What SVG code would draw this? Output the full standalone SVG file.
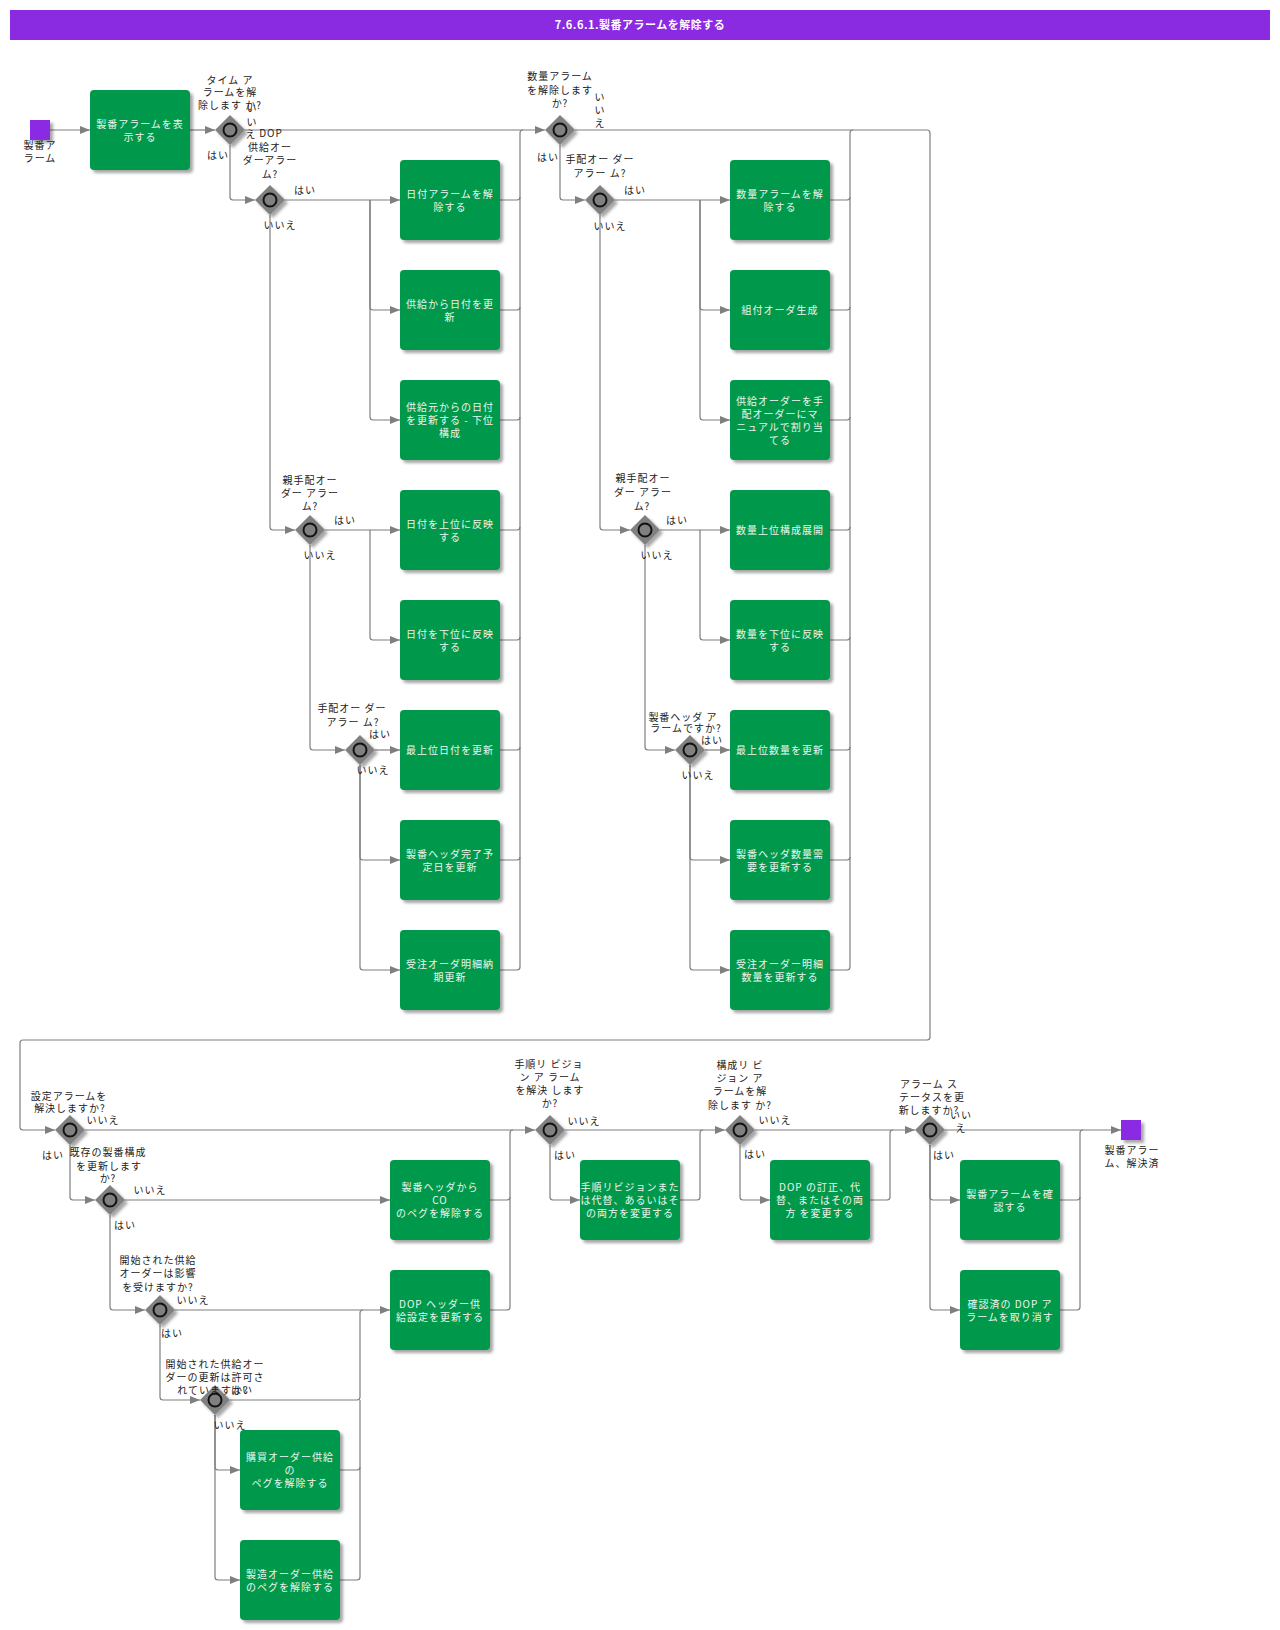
<svg xmlns="http://www.w3.org/2000/svg" width="1280" height="1630" viewBox="0 0 1280 1630">
<style>
text{font-family:"Noto Sans CJK JP","Noto Sans",sans-serif;font-size:10px;letter-spacing:1px;text-anchor:middle}
.title{fill:#fff;font-size:11px;font-weight:bold;letter-spacing:0.5px}
.tl{fill:#eef5ee}
.lb{fill:#222}
.task{fill:#00994c;filter:url(#sh)}
.gw{fill:#808080;filter:url(#sh)}
.gc{fill:#808080;stroke:#111;stroke-width:2}
.ev{fill:#8a2be2;filter:url(#sh)}
.cn path{fill:none;stroke:#7f7f7f;stroke-width:1.2}
.cn path.a{marker-end:url(#ar)}
</style>
<defs>
<marker id="ar" markerUnits="userSpaceOnUse" markerWidth="11" markerHeight="9" refX="10" refY="4" orient="auto"><path d="M0,0 L10,4 L0,8 Z" fill="#7f7f7f"/></marker>
<filter id="sh" x="-20%" y="-20%" width="150%" height="150%"><feDropShadow dx="3" dy="3" stdDeviation="1.8" flood-color="#000" flood-opacity="0.35"/></filter>
</defs>
<rect x="0" y="0" width="1280" height="1630" fill="#fff"/>
<g id="title"><rect x="10" y="10" width="1260" height="30" fill="#8a2be2"/><text class="title" x="640" y="29">7.6.6.1.製番アラームを解除する</text></g>

<g id="connectors" class="cn">
<path class="a" d="M50,130 H90"/>
<path class="a" d="M190,130 H215"/>
<path class="a" d="M245,130 H545"/>
<path class="a" d="M230,145 V197 Q230,200 233,200 H255"/>
<path class="a" d="M285,200 H400"/>
<path class="a" d="M370,200 V307 Q370,310 373,310 H400"/>
<path class="a" d="M370,200 V417 Q370,420 373,420 H400"/>
<path class="a" d="M270,215 V527 Q270,530 273,530 H295"/>
<path class="a" d="M325,530 H400"/>
<path class="a" d="M370,530 V637 Q370,640 373,640 H400"/>
<path class="a" d="M310,545 V747 Q310,750 313,750 H345"/>
<path class="a" d="M375,750 H400"/>
<path class="a" d="M360,765 V857 Q360,860 363,860 H400"/>
<path class="a" d="M360,765 V967 Q360,970 363,970 H400"/>
<path d="M500,200 H517 Q520,200 520,197"/>
<path d="M500,310 H517 Q520,310 520,307"/>
<path d="M500,420 H517 Q520,420 520,417"/>
<path d="M500,530 H517 Q520,530 520,527"/>
<path d="M500,640 H517 Q520,640 520,637"/>
<path d="M500,750 H517 Q520,750 520,747"/>
<path d="M500,860 H517 Q520,860 520,857"/>
<path d="M500,970 H517 Q520,970 520,967 V133 Q520,130 523,130"/>
<path class="a" d="M560,145 V197 Q560,200 563,200 H585"/>
<path class="a" d="M615,200 H730"/>
<path class="a" d="M700,200 V307 Q700,310 703,310 H730"/>
<path class="a" d="M700,200 V417 Q700,420 703,420 H730"/>
<path class="a" d="M600,215 V527 Q600,530 603,530 H630"/>
<path class="a" d="M660,530 H730"/>
<path class="a" d="M700,530 V637 Q700,640 703,640 H730"/>
<path class="a" d="M645,545 V747 Q645,750 648,750 H675"/>
<path class="a" d="M705,750 H730"/>
<path class="a" d="M690,765 V857 Q690,860 693,860 H730"/>
<path class="a" d="M690,765 V967 Q690,970 693,970 H730"/>
<path d="M830,200 H847 Q850,200 850,197"/>
<path d="M830,310 H847 Q850,310 850,307"/>
<path d="M830,420 H847 Q850,420 850,417"/>
<path d="M830,530 H847 Q850,530 850,527"/>
<path d="M830,640 H847 Q850,640 850,637"/>
<path d="M830,750 H847 Q850,750 850,747"/>
<path d="M830,860 H847 Q850,860 850,857"/>
<path d="M830,970 H847 Q850,970 850,967 V133 Q850,130 853,130"/>
<path class="a" d="M575,130 H927 Q930,130 930,133 V1037 Q930,1040 927,1040 H23 Q20,1040 20,1043 V1127 Q20,1130 23,1130 H55"/>
<path class="a" d="M85,1130 H535"/>
<path class="a" d="M70,1145 V1197 Q70,1200 73,1200 H95"/>
<path class="a" d="M125,1200 H390"/>
<path class="a" d="M110,1215 V1307 Q110,1310 113,1310 H145"/>
<path class="a" d="M175,1310 H390"/>
<path class="a" d="M160,1325 V1397 Q160,1400 163,1400 H200"/>
<path d="M230,1400 H357 Q360,1400 360,1397 V1313 Q360,1310 363,1310"/>
<path class="a" d="M215,1415 V1467 Q215,1470 218,1470 H240"/>
<path class="a" d="M215,1415 V1577 Q215,1580 218,1580 H240"/>
<path d="M340,1470 H357 Q360,1470 360,1467"/>
<path d="M340,1580 H357 Q360,1580 360,1577 V1400"/>
<path d="M490,1200 H507 Q510,1200 510,1197"/>
<path d="M490,1310 H507 Q510,1310 510,1307 V1133 Q510,1130 513,1130"/>
<path class="a" d="M550,1145 V1197 Q550,1200 553,1200 H580"/>
<path class="a" d="M565,1130 H725"/>
<path d="M680,1200 H697 Q700,1200 700,1197 V1133 Q700,1130 703,1130"/>
<path class="a" d="M740,1145 V1197 Q740,1200 743,1200 H770"/>
<path class="a" d="M755,1130 H915"/>
<path d="M870,1200 H887 Q890,1200 890,1197 V1133 Q890,1130 893,1130"/>
<path class="a" d="M930,1145 V1197 Q930,1200 933,1200 H960"/>
<path class="a" d="M930,1145 V1307 Q930,1310 933,1310 H960"/>
<path class="a" d="M945,1130 H1121"/>
<path d="M1060,1200 H1077 Q1080,1200 1080,1197"/>
<path d="M1060,1310 H1077 Q1080,1310 1080,1307 V1133 Q1080,1130 1083,1130"/>
</g>

<g id="connector-labels" class="lb">
<text class="lb" x="218" y="159">はい</text>
<text class="lb" x="252" y="112">い</text><text class="lb" x="252" y="126">い</text><text class="lb" x="251" y="138">え</text>
<text class="lb" x="305" y="194">はい</text>
<text class="lb" x="280" y="229">いいえ</text>
<text class="lb" x="345" y="524">はい</text>
<text class="lb" x="320" y="559">いいえ</text>
<text class="lb" x="380" y="738">はい</text>
<text class="lb" x="373" y="774">いいえ</text>
<text class="lb" x="548" y="161">はい</text>
<text class="lb" x="600" y="101">い</text><text class="lb" x="600" y="114">い</text><text class="lb" x="600" y="127">え</text>
<text class="lb" x="635" y="194">はい</text>
<text class="lb" x="610" y="230">いいえ</text>
<text class="lb" x="677" y="524">はい</text>
<text class="lb" x="657" y="559">いいえ</text>
<text class="lb" x="712" y="744">はい</text>
<text class="lb" x="698" y="779">いいえ</text>
<text class="lb" x="103" y="1124">いいえ</text>
<text class="lb" x="53" y="1159">はい</text>
<text class="lb" x="150" y="1194">いいえ</text>
<text class="lb" x="125" y="1229">はい</text>
<text class="lb" x="193" y="1304">いいえ</text>
<text class="lb" x="172" y="1337">はい</text>
<text class="lb" x="242" y="1394">はい</text>
<text class="lb" x="230" y="1429">いいえ</text>
<text class="lb" x="584" y="1125">いいえ</text>
<text class="lb" x="565" y="1159">はい</text>
<text class="lb" x="775" y="1124">いいえ</text>
<text class="lb" x="755" y="1158">はい</text>
<text class="lb" x="961" y="1119">いい</text><text class="lb" x="961" y="1132">え</text>
<text class="lb" x="944" y="1159">はい</text>
</g>

<g id="start"><rect class="ev" x="30" y="120" width="20" height="20"/><text class="lb" x="40" y="149">製番ア</text><text class="lb" x="40" y="162">ラーム</text></g>
<g id="end"><rect class="ev" x="1121" y="1120" width="20" height="20"/><text class="lb" x="1132" y="1154">製番アラー</text><text class="lb" x="1132" y="1167">ム、解決済</text></g>

<g id="t-show"><rect class="task" x="90" y="90" width="100" height="80" rx="4"/><text class="tl" x="140" y="128">製番アラームを表</text><text class="tl" x="140" y="141">示する</text></g>

<g id="g1"><polygon class="gw" points="230,115 245,130 230,145 215,130"/><circle class="gc" cx="230" cy="130" r="6.5"/><text class="lb" x="230" y="84">タイム ア</text><text class="lb" x="230" y="96">ラームを解</text><text class="lb" x="230" y="109">除します か?</text></g>
<g id="g2"><polygon class="gw" points="270,185 285,200 270,215 255,200"/><circle class="gc" cx="270" cy="200" r="6.5"/><text class="lb" x="271" y="137">DOP</text><text class="lb" x="270" y="151">供給オー</text><text class="lb" x="270" y="164">ダーアラー</text><text class="lb" x="270" y="178">ム?</text></g>
<g id="g3"><polygon class="gw" points="310,515 325,530 310,545 295,530"/><circle class="gc" cx="310" cy="530" r="6.5"/><text class="lb" x="310" y="484">親手配オー</text><text class="lb" x="310" y="497">ダー アラー</text><text class="lb" x="310" y="510">ム?</text></g>
<g id="g4"><polygon class="gw" points="360,735 375,750 360,765 345,750"/><circle class="gc" cx="360" cy="750" r="6.5"/><text class="lb" x="352" y="712">手配オー ダー</text><text class="lb" x="353" y="726">アラー ム?</text></g>
<g id="g5"><polygon class="gw" points="560,115 575,130 560,145 545,130"/><circle class="gc" cx="560" cy="130" r="6.5"/><text class="lb" x="560" y="80">数量アラーム</text><text class="lb" x="560" y="94">を解除します</text><text class="lb" x="560" y="107">か?</text></g>
<g id="g6"><polygon class="gw" points="600,185 615,200 600,215 585,200"/><circle class="gc" cx="600" cy="200" r="6.5"/><text class="lb" x="600" y="163">手配オー ダー</text><text class="lb" x="600" y="177">アラー ム?</text></g>
<g id="g7"><polygon class="gw" points="645,515 660,530 645,545 630,530"/><circle class="gc" cx="645" cy="530" r="6.5"/><text class="lb" x="643" y="482">親手配オー</text><text class="lb" x="643" y="496">ダー アラー</text><text class="lb" x="642" y="510">ム?</text></g>
<g id="g8"><polygon class="gw" points="690,735 705,750 690,765 675,750"/><circle class="gc" cx="690" cy="750" r="6.5"/><text class="lb" x="683" y="721">製番ヘッダ ア</text><text class="lb" x="686" y="732">ラームですか?</text></g>

<g id="t1"><rect class="task" x="400" y="160" width="100" height="80" rx="4"/><text class="tl" x="450" y="197.5">日付アラームを解</text><text class="tl" x="450" y="210.5">除する</text></g>
<g id="t2"><rect class="task" x="400" y="270" width="100" height="80" rx="4"/><text class="tl" x="450" y="307.5">供給から日付を更</text><text class="tl" x="450" y="320.5">新</text></g>
<g id="t3"><rect class="task" x="400" y="380" width="100" height="80" rx="4"/><text class="tl" x="450" y="411">供給元からの日付</text><text class="tl" x="450" y="424">を更新する - 下位</text><text class="tl" x="450" y="437">構成</text></g>
<g id="t4"><rect class="task" x="400" y="490" width="100" height="80" rx="4"/><text class="tl" x="450" y="527.5">日付を上位に反映</text><text class="tl" x="450" y="540.5">する</text></g>
<g id="t5"><rect class="task" x="400" y="600" width="100" height="80" rx="4"/><text class="tl" x="450" y="637.5">日付を下位に反映</text><text class="tl" x="450" y="650.5">する</text></g>
<g id="t6"><rect class="task" x="400" y="710" width="100" height="80" rx="4"/><text class="tl" x="450" y="754">最上位日付を更新</text></g>
<g id="t7"><rect class="task" x="400" y="820" width="100" height="80" rx="4"/><text class="tl" x="450" y="857.5">製番ヘッダ完了予</text><text class="tl" x="450" y="870.5">定日を更新</text></g>
<g id="t8"><rect class="task" x="400" y="930" width="100" height="80" rx="4"/><text class="tl" x="450" y="967.5">受注オーダ明細納</text><text class="tl" x="450" y="980.5">期更新</text></g>

<g id="t9"><rect class="task" x="730" y="160" width="100" height="80" rx="4"/><text class="tl" x="780" y="197.5">数量アラームを解</text><text class="tl" x="780" y="210.5">除する</text></g>
<g id="t10"><rect class="task" x="730" y="270" width="100" height="80" rx="4"/><text class="tl" x="780" y="314">組付オーダ生成</text></g>
<g id="t11"><rect class="task" x="730" y="380" width="100" height="80" rx="4"/><text class="tl" x="780" y="404.5">供給オーダーを手</text><text class="tl" x="780" y="417.5">配オーダーにマ</text><text class="tl" x="780" y="430.5">ニュアルで割り当</text><text class="tl" x="780" y="443.5">てる</text></g>
<g id="t12"><rect class="task" x="730" y="490" width="100" height="80" rx="4"/><text class="tl" x="780" y="534">数量上位構成展開</text></g>
<g id="t13"><rect class="task" x="730" y="600" width="100" height="80" rx="4"/><text class="tl" x="780" y="637.5">数量を下位に反映</text><text class="tl" x="780" y="650.5">する</text></g>
<g id="t14"><rect class="task" x="730" y="710" width="100" height="80" rx="4"/><text class="tl" x="780" y="754">最上位数量を更新</text></g>
<g id="t15"><rect class="task" x="730" y="820" width="100" height="80" rx="4"/><text class="tl" x="780" y="857.5">製番ヘッダ数量需</text><text class="tl" x="780" y="870.5">要を更新する</text></g>
<g id="t16"><rect class="task" x="730" y="930" width="100" height="80" rx="4"/><text class="tl" x="780" y="967.5">受注オーダー明細</text><text class="tl" x="780" y="980.5">数量を更新する</text></g>

<g id="g9"><polygon class="gw" points="70,1115 85,1130 70,1145 55,1130"/><circle class="gc" cx="70" cy="1130" r="6.5"/><text class="lb" x="69" y="1100">設定アラームを</text><text class="lb" x="70" y="1112">解決しますか?</text></g>
<g id="g10"><polygon class="gw" points="110,1185 125,1200 110,1215 95,1200"/><circle class="gc" cx="110" cy="1200" r="6.5"/><text class="lb" x="108" y="1156">既存の製番構成</text><text class="lb" x="109" y="1170">を更新します</text><text class="lb" x="108" y="1182">か?</text></g>
<g id="g11"><polygon class="gw" points="160,1295 175,1310 160,1325 145,1310"/><circle class="gc" cx="160" cy="1310" r="6.5"/><text class="lb" x="158" y="1264">開始された供給</text><text class="lb" x="158" y="1277">オーダーは影響</text><text class="lb" x="158" y="1291">を受けますか?</text></g>
<g id="g12"><polygon class="gw" points="215,1385 230,1400 215,1415 200,1400"/><circle class="gc" cx="215" cy="1400" r="6.5"/><text class="lb" x="215" y="1368">開始された供給オー</text><text class="lb" x="215" y="1381">ダーの更新は許可さ</text><text class="lb" x="213" y="1394">れていますか?</text></g>
<g id="g13"><polygon class="gw" points="550,1115 565,1130 550,1145 535,1130"/><circle class="gc" cx="550" cy="1130" r="6.5"/><text class="lb" x="549" y="1068">手順リ ビジョ</text><text class="lb" x="550" y="1081">ン ア ラーム</text><text class="lb" x="550" y="1094">を解決 します</text><text class="lb" x="550" y="1107">か?</text></g>
<g id="g14"><polygon class="gw" points="740,1115 755,1130 740,1145 725,1130"/><circle class="gc" cx="740" cy="1130" r="6.5"/><text class="lb" x="740" y="1069">構成リ ビ</text><text class="lb" x="740" y="1082">ジョン ア</text><text class="lb" x="740" y="1095">ラームを解</text><text class="lb" x="740" y="1109">除します か?</text></g>
<g id="g15"><polygon class="gw" points="930,1115 945,1130 930,1145 915,1130"/><circle class="gc" cx="930" cy="1130" r="6.5"/><text class="lb" x="929" y="1088">アラーム ス</text><text class="lb" x="932" y="1101">テータスを更</text><text class="lb" x="929" y="1114">新しますか?</text></g>

<g id="t17"><rect class="task" x="390" y="1160" width="100" height="80" rx="4"/><text class="tl" x="440" y="1191">製番ヘッダから</text><text class="tl" x="440" y="1204">CO</text><text class="tl" x="440" y="1217">のペグを解除する</text></g>
<g id="t18"><rect class="task" x="390" y="1270" width="100" height="80" rx="4"/><text class="tl" x="440" y="1307.5">DOP ヘッダー供</text><text class="tl" x="440" y="1320.5">給設定を更新する</text></g>
<g id="t19"><rect class="task" x="240" y="1430" width="100" height="80" rx="4"/><text class="tl" x="290" y="1461">購買オーダー供給</text><text class="tl" x="290" y="1474">の</text><text class="tl" x="290" y="1487">ペグを解除する</text></g>
<g id="t20"><rect class="task" x="240" y="1540" width="100" height="80" rx="4"/><text class="tl" x="290" y="1577.5">製造オーダー供給</text><text class="tl" x="290" y="1590.5">のペグを解除する</text></g>
<g id="t21"><rect class="task" x="580" y="1160" width="100" height="80" rx="4"/><text class="tl" x="630" y="1191">手順リビジョンまた</text><text class="tl" x="630" y="1204">は代替、あるいはそ</text><text class="tl" x="630" y="1217">の両方を変更する</text></g>
<g id="t22"><rect class="task" x="770" y="1160" width="100" height="80" rx="4"/><text class="tl" x="820" y="1191">DOP の訂正、代</text><text class="tl" x="820" y="1204">替、またはその両</text><text class="tl" x="820" y="1217">方 を変更する</text></g>
<g id="t23"><rect class="task" x="960" y="1160" width="100" height="80" rx="4"/><text class="tl" x="1010" y="1197.5">製番アラームを確</text><text class="tl" x="1010" y="1210.5">認する</text></g>
<g id="t24"><rect class="task" x="960" y="1270" width="100" height="80" rx="4"/><text class="tl" x="1010" y="1307.5">確認済の DOP ア</text><text class="tl" x="1010" y="1320.5">ラームを取り消す</text></g>
</svg>
